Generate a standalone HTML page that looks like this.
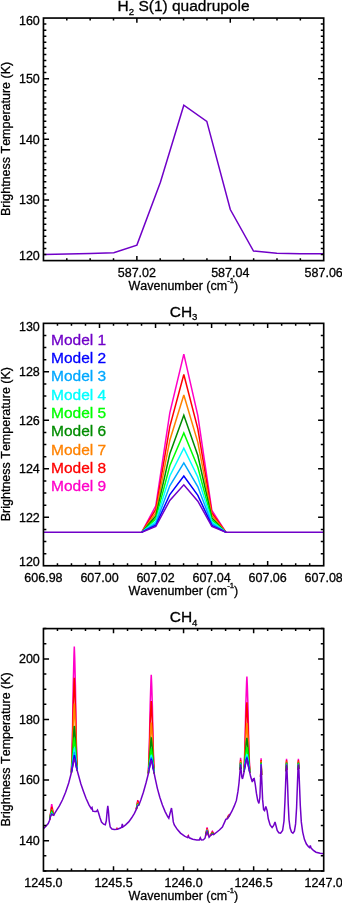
<!DOCTYPE html>
<html><head><meta charset="utf-8"><title>spectra</title>
<style>html,body{margin:0;padding:0;background:#fff}svg{display:block;will-change:transform;filter:contrast(1)}text{font-family:"Liberation Sans", sans-serif;stroke-width:.3px;font-kerning:none}</style>
</head><body>
<svg width="342" height="903" viewBox="0 0 342 903">
<rect width="342" height="903" fill="#fff"/>
<g>
<polyline points="43.45,254.4 67,254 90.3,253.5 113.8,252.7 136.9,245.1 160.4,182.2 183.8,105.2 206.8,121.4 230.3,209.5 253.5,251 276.8,253.2 300.3,253.7 323.7,253.85" fill="none" stroke="#7000c8" stroke-width="1.5" stroke-linejoin="miter" stroke-miterlimit="3"/>
<rect x="43.45" y="18.05" width="280.25" height="242.55" fill="none" stroke="#000" stroke-width="1.65"/>
<path d="M136.87 260.6v-4.7M136.87 18.05v4.7M230.28 260.6v-4.7M230.28 18.05v4.7M66.8 260.6v-2.4M66.8 18.05v2.4M90.16 260.6v-2.4M90.16 18.05v2.4M113.51 260.6v-2.4M113.51 18.05v2.4M160.22 260.6v-2.4M160.22 18.05v2.4M183.57 260.6v-2.4M183.57 18.05v2.4M206.93 260.6v-2.4M206.93 18.05v2.4M253.64 260.6v-2.4M253.64 18.05v2.4M276.99 260.6v-2.4M276.99 18.05v2.4M300.35 260.6v-2.4M300.35 18.05v2.4M43.45 199.96h5.6M323.7 199.96h-5.6M43.45 139.33h5.6M323.7 139.33h-5.6M43.45 78.69h5.6M323.7 78.69h-5.6M43.45 254.54h2.9M323.7 254.54h-2.9M43.45 248.47h2.9M323.7 248.47h-2.9M43.45 242.41h2.9M323.7 242.41h-2.9M43.45 236.35h2.9M323.7 236.35h-2.9M43.45 230.28h2.9M323.7 230.28h-2.9M43.45 224.22h2.9M323.7 224.22h-2.9M43.45 218.15h2.9M323.7 218.15h-2.9M43.45 212.09h2.9M323.7 212.09h-2.9M43.45 206.03h2.9M323.7 206.03h-2.9M43.45 193.9h2.9M323.7 193.9h-2.9M43.45 187.84h2.9M323.7 187.84h-2.9M43.45 181.77h2.9M323.7 181.77h-2.9M43.45 175.71h2.9M323.7 175.71h-2.9M43.45 169.64h2.9M323.7 169.64h-2.9M43.45 163.58h2.9M323.7 163.58h-2.9M43.45 157.52h2.9M323.7 157.52h-2.9M43.45 151.45h2.9M323.7 151.45h-2.9M43.45 145.39h2.9M323.7 145.39h-2.9M43.45 133.26h2.9M323.7 133.26h-2.9M43.45 127.2h2.9M323.7 127.2h-2.9M43.45 121.13h2.9M323.7 121.13h-2.9M43.45 115.07h2.9M323.7 115.07h-2.9M43.45 109.01h2.9M323.7 109.01h-2.9M43.45 102.94h2.9M323.7 102.94h-2.9M43.45 96.88h2.9M323.7 96.88h-2.9M43.45 90.82h2.9M323.7 90.82h-2.9M43.45 84.75h2.9M323.7 84.75h-2.9M43.45 72.62h2.9M323.7 72.62h-2.9M43.45 66.56h2.9M323.7 66.56h-2.9M43.45 60.5h2.9M323.7 60.5h-2.9M43.45 54.43h2.9M323.7 54.43h-2.9M43.45 48.37h2.9M323.7 48.37h-2.9M43.45 42.31h2.9M323.7 42.31h-2.9M43.45 36.24h2.9M323.7 36.24h-2.9M43.45 30.18h2.9M323.7 30.18h-2.9M43.45 24.11h2.9M323.7 24.11h-2.9" fill="none" stroke="#000" stroke-width="1.5"/>
<text x="183.57" y="11.35" font-size="15.5" text-anchor="middle" fill="#000" stroke="#000">H<tspan font-size="9.61" dy="3.72">2</tspan><tspan dy="-3.72">&#8203;</tspan> S(1) quadrupole</text>
<text x="39.8" y="260.45" font-size="12.5" text-anchor="end" fill="#000" stroke="#000">120</text>
<text x="39.8" y="204.36" font-size="12.5" text-anchor="end" fill="#000" stroke="#000">130</text>
<text x="39.8" y="143.73" font-size="12.5" text-anchor="end" fill="#000" stroke="#000">140</text>
<text x="39.8" y="83.09" font-size="12.5" text-anchor="end" fill="#000" stroke="#000">150</text>
<text x="39.8" y="25.25" font-size="12.5" text-anchor="end" fill="#000" stroke="#000">160</text>
<text x="136.87" y="276.5" font-size="12.5" text-anchor="middle" fill="#000" stroke="#000">587.02</text>
<text x="230.28" y="276.5" font-size="12.5" text-anchor="middle" fill="#000" stroke="#000">587.04</text>
<text x="323.7" y="276.5" font-size="12.5" text-anchor="middle" fill="#000" stroke="#000">587.06</text>
<text x="183.38" y="290" font-size="12.5" text-anchor="middle" fill="#000" stroke="#000">Wavenumber (cm<tspan font-size="7.75" dy="-6.88">-1</tspan><tspan dy="6.88">&#8203;</tspan>)</text>
<text transform="translate(9.7 138.93) rotate(-90)" font-size="12.5" text-anchor="middle" stroke="#000">Brightness Temperature (K)</text>
</g>
<g>
<polyline points="141.79,532.2 155.8,505.84 169.81,412.87 183.82,354.1 197.84,415.54 211.85,510.47 225.86,532.2" fill="none" stroke="#ff00c8" stroke-width="1.5" stroke-linejoin="miter" stroke-miterlimit="3"/>
<polyline points="141.79,532.2 155.8,509.41 169.81,426.54 183.82,374.5 197.84,428.91 211.85,512.96 225.86,532.2" fill="none" stroke="#ff0000" stroke-width="1.5" stroke-linejoin="miter" stroke-miterlimit="3"/>
<polyline points="141.79,532.2 155.8,512.85 169.81,440.28 183.82,395 197.84,442.33 211.85,515.46 225.86,532.2" fill="none" stroke="#ff8200" stroke-width="1.5" stroke-linejoin="miter" stroke-miterlimit="3"/>
<polyline points="141.79,532.2 155.8,516.11 169.81,453.81 183.82,415.2 197.84,455.56 211.85,517.93 225.86,532.2" fill="none" stroke="#008c00" stroke-width="1.5" stroke-linejoin="miter" stroke-miterlimit="3"/>
<polyline points="141.79,532.2 155.8,518.91 169.81,465.74 183.82,433 197.84,467.22 211.85,520.1 225.86,532.2" fill="none" stroke="#00ff00" stroke-width="1.5" stroke-linejoin="miter" stroke-miterlimit="3"/>
<polyline points="141.79,532.2 155.8,521.24 169.81,475.92 183.82,448.2 197.84,477.18 211.85,521.95 225.86,532.2" fill="none" stroke="#00ffff" stroke-width="1.5" stroke-linejoin="miter" stroke-miterlimit="3"/>
<polyline points="141.79,532.2 155.8,523.4 169.81,485.77 183.82,462.9 197.84,486.81 211.85,523.75 225.86,532.2" fill="none" stroke="#00a8ff" stroke-width="1.5" stroke-linejoin="miter" stroke-miterlimit="3"/>
<polyline points="141.79,532.2 155.8,525.26 169.81,494.55 183.82,476 197.84,495.39 211.85,525.34 225.86,532.2" fill="none" stroke="#0000ff" stroke-width="1.5" stroke-linejoin="miter" stroke-miterlimit="3"/>
<polyline points="43.45,532.2 141.79,532.2 155.8,526.51 169.81,500.44 183.82,484.8 197.84,501.15 211.85,526.42 225.86,532.2 323.7,532.2" fill="none" stroke="#7000c8" stroke-width="1.5" stroke-linejoin="miter" stroke-miterlimit="3"/>
<rect x="43.45" y="323.35" width="280.25" height="242.4" fill="none" stroke="#000" stroke-width="1.65"/>
<path d="M99.5 565.75v-4.7M99.5 323.35v4.7M155.55 565.75v-4.7M155.55 323.35v4.7M211.6 565.75v-4.7M211.6 323.35v4.7M267.65 565.75v-4.7M267.65 323.35v4.7M57.46 565.75v-2.4M57.46 323.35v2.4M71.47 565.75v-2.4M71.47 323.35v2.4M85.49 565.75v-2.4M85.49 323.35v2.4M113.51 565.75v-2.4M113.51 323.35v2.4M127.52 565.75v-2.4M127.52 323.35v2.4M141.54 565.75v-2.4M141.54 323.35v2.4M169.56 565.75v-2.4M169.56 323.35v2.4M183.57 565.75v-2.4M183.57 323.35v2.4M197.59 565.75v-2.4M197.59 323.35v2.4M225.61 565.75v-2.4M225.61 323.35v2.4M239.63 565.75v-2.4M239.63 323.35v2.4M253.64 565.75v-2.4M253.64 323.35v2.4M281.66 565.75v-2.4M281.66 323.35v2.4M295.68 565.75v-2.4M295.68 323.35v2.4M309.69 565.75v-2.4M309.69 323.35v2.4M43.45 517.27h5.6M323.7 517.27h-5.6M43.45 468.79h5.6M323.7 468.79h-5.6M43.45 420.31h5.6M323.7 420.31h-5.6M43.45 371.83h5.6M323.7 371.83h-5.6M43.45 553.63h2.9M323.7 553.63h-2.9M43.45 541.51h2.9M323.7 541.51h-2.9M43.45 529.39h2.9M323.7 529.39h-2.9M43.45 505.15h2.9M323.7 505.15h-2.9M43.45 493.03h2.9M323.7 493.03h-2.9M43.45 480.91h2.9M323.7 480.91h-2.9M43.45 456.67h2.9M323.7 456.67h-2.9M43.45 444.55h2.9M323.7 444.55h-2.9M43.45 432.43h2.9M323.7 432.43h-2.9M43.45 408.19h2.9M323.7 408.19h-2.9M43.45 396.07h2.9M323.7 396.07h-2.9M43.45 383.95h2.9M323.7 383.95h-2.9M43.45 359.71h2.9M323.7 359.71h-2.9M43.45 347.59h2.9M323.7 347.59h-2.9M43.45 335.47h2.9M323.7 335.47h-2.9" fill="none" stroke="#000" stroke-width="1.5"/>
<text x="183.57" y="316.65" font-size="15.5" text-anchor="middle" fill="#000" stroke="#000">CH<tspan font-size="9.61" dy="3.72">3</tspan><tspan dy="-3.72">&#8203;</tspan></text>
<text x="39.8" y="565.6" font-size="12.5" text-anchor="end" fill="#000" stroke="#000">120</text>
<text x="39.8" y="521.67" font-size="12.5" text-anchor="end" fill="#000" stroke="#000">122</text>
<text x="39.8" y="473.19" font-size="12.5" text-anchor="end" fill="#000" stroke="#000">124</text>
<text x="39.8" y="424.71" font-size="12.5" text-anchor="end" fill="#000" stroke="#000">126</text>
<text x="39.8" y="376.23" font-size="12.5" text-anchor="end" fill="#000" stroke="#000">128</text>
<text x="39.8" y="330.55" font-size="12.5" text-anchor="end" fill="#000" stroke="#000">130</text>
<text x="43.45" y="581.65" font-size="12.5" text-anchor="middle" fill="#000" stroke="#000">606.98</text>
<text x="99.5" y="581.65" font-size="12.5" text-anchor="middle" fill="#000" stroke="#000">607.00</text>
<text x="155.55" y="581.65" font-size="12.5" text-anchor="middle" fill="#000" stroke="#000">607.02</text>
<text x="211.6" y="581.65" font-size="12.5" text-anchor="middle" fill="#000" stroke="#000">607.04</text>
<text x="267.65" y="581.65" font-size="12.5" text-anchor="middle" fill="#000" stroke="#000">607.06</text>
<text x="323.7" y="581.65" font-size="12.5" text-anchor="middle" fill="#000" stroke="#000">607.08</text>
<text x="183.38" y="595.15" font-size="12.5" text-anchor="middle" fill="#000" stroke="#000">Wavenumber (cm<tspan font-size="7.75" dy="-6.88">-1</tspan><tspan dy="6.88">&#8203;</tspan>)</text>
<text transform="translate(9.7 444.15) rotate(-90)" font-size="12.5" text-anchor="middle" stroke="#000">Brightness Temperature (K)</text>
<text x="51" y="344.7" font-size="15.5" text-anchor="start" fill="#7000c8" stroke="#7000c8">Model 1</text>
<text x="51" y="363" font-size="15.5" text-anchor="start" fill="#0000ff" stroke="#0000ff">Model 2</text>
<text x="51" y="381.3" font-size="15.5" text-anchor="start" fill="#00a8ff" stroke="#00a8ff">Model 3</text>
<text x="51" y="399.6" font-size="15.5" text-anchor="start" fill="#00ffff" stroke="#00ffff">Model 4</text>
<text x="51" y="417.9" font-size="15.5" text-anchor="start" fill="#00ff00" stroke="#00ff00">Model 5</text>
<text x="51" y="436.2" font-size="15.5" text-anchor="start" fill="#008c00" stroke="#008c00">Model 6</text>
<text x="51" y="454.5" font-size="15.5" text-anchor="start" fill="#ff8200" stroke="#ff8200">Model 7</text>
<text x="51" y="472.8" font-size="15.5" text-anchor="start" fill="#ff0000" stroke="#ff0000">Model 8</text>
<text x="51" y="491.1" font-size="15.5" text-anchor="start" fill="#ff00c8" stroke="#ff00c8">Model 9</text>
</g>
<g>
<polyline points="49.7,819.79 51.7,804.1 53.7,815.3" fill="none" stroke="#ff00c8" stroke-width="1.5" stroke-linejoin="miter" stroke-miterlimit="3"/>
<polyline points="71.4,772.45 72.4,737.07 73.2,686.31 74,654.37 74.3,646.56 74.7,656.93 75.4,685.04 76.2,735.7 77.2,770.54" fill="none" stroke="#ff00c8" stroke-width="1.5" stroke-linejoin="miter" stroke-miterlimit="3"/>
<polyline points="116.4,828.93 117,828.23 117.6,828.79" fill="none" stroke="#ff00c8" stroke-width="1.5" stroke-linejoin="miter" stroke-miterlimit="3"/>
<polyline points="136.2,809.61 137.5,801.35 137.8,800.13 138.9,803.35 139.4,803.77" fill="none" stroke="#ff00c8" stroke-width="1.5" stroke-linejoin="miter" stroke-miterlimit="3"/>
<polyline points="148.35,773.52 149.35,744.83 150.15,705.42 150.95,680.84 151.25,674.76 151.65,683.07 152.35,705.16 153.15,744.83 154.15,773.35" fill="none" stroke="#ff00c8" stroke-width="1.5" stroke-linejoin="miter" stroke-miterlimit="3"/>
<polyline points="187.9,836.78 188.3,835.77 188.4,835.68 188.7,836.43" fill="none" stroke="#ff00c8" stroke-width="1.5" stroke-linejoin="miter" stroke-miterlimit="3"/>
<polyline points="205.6,835.48 207.1,827.3 208.6,835.39" fill="none" stroke="#ff00c8" stroke-width="1.5" stroke-linejoin="miter" stroke-miterlimit="3"/>
<polyline points="210.4,835.45 212.2,831.46 212.4,831.27 213.6,833.28 214.4,833.71" fill="none" stroke="#ff00c8" stroke-width="1.5" stroke-linejoin="miter" stroke-miterlimit="3"/>
<polyline points="226.9,818.64 227.3,818.16 228.5,815.43 230.1,814.08" fill="none" stroke="#ff00c8" stroke-width="1.5" stroke-linejoin="miter" stroke-miterlimit="3"/>
<polyline points="240.15,769.7 240.6,757.9 241.05,769.1" fill="none" stroke="#ff00c8" stroke-width="1.5" stroke-linejoin="miter" stroke-miterlimit="3"/>
<polyline points="244,772.07 245,743.72 245.8,705.46 246.6,682.11 246.9,676.6 247.3,685.01 248,706.65 248.8,745.28 249.8,772.81" fill="none" stroke="#ff00c8" stroke-width="1.5" stroke-linejoin="miter" stroke-miterlimit="3"/>
<polyline points="260.65,776.78 261.1,758.2 261.55,775.01" fill="none" stroke="#ff00c8" stroke-width="1.5" stroke-linejoin="miter" stroke-miterlimit="3"/>
<polyline points="286.1,771.3 286.55,758.7 287,769.95" fill="none" stroke="#ff00c8" stroke-width="1.5" stroke-linejoin="miter" stroke-miterlimit="3"/>
<polyline points="297.95,770.06 298.4,758.7 298.85,768.7" fill="none" stroke="#ff00c8" stroke-width="1.5" stroke-linejoin="miter" stroke-miterlimit="3"/>
<polyline points="49.7,819.79 51.7,806.94 53.7,815.3" fill="none" stroke="#ff0000" stroke-width="1.5" stroke-linejoin="miter" stroke-miterlimit="3"/>
<polyline points="71.4,772.45 72.4,745.65 73.2,707.84 74,683.69 74.3,677.76 74.7,685.45 75.4,706.56 76.2,744.28 77.2,770.54" fill="none" stroke="#ff0000" stroke-width="1.5" stroke-linejoin="miter" stroke-miterlimit="3"/>
<polyline points="116.5,828.94 117,828.51 117.5,828.84" fill="none" stroke="#ff0000" stroke-width="1.5" stroke-linejoin="miter" stroke-miterlimit="3"/>
<polyline points="136.3,809.15 137.5,802.64 137.8,801.72 138.9,803.85 139.3,803.79" fill="none" stroke="#ff0000" stroke-width="1.5" stroke-linejoin="miter" stroke-miterlimit="3"/>
<polyline points="148.35,773.52 149.35,752.09 150.15,723.63 150.95,705.66 151.25,701.16 151.65,707.2 152.35,723.38 153.15,752.09 154.15,773.35" fill="none" stroke="#ff0000" stroke-width="1.5" stroke-linejoin="miter" stroke-miterlimit="3"/>
<polyline points="188.1,836.4 188.3,835.95 188.4,835.82 188.5,836.06" fill="none" stroke="#ff0000" stroke-width="1.5" stroke-linejoin="miter" stroke-miterlimit="3"/>
<polyline points="205.6,835.55 207.1,828.49 208.6,835.46" fill="none" stroke="#ff0000" stroke-width="1.5" stroke-linejoin="miter" stroke-miterlimit="3"/>
<polyline points="210.5,835.34 212.2,832.21 212.4,832.1 213.6,833.66 214.3,833.77" fill="none" stroke="#ff0000" stroke-width="1.5" stroke-linejoin="miter" stroke-miterlimit="3"/>
<polyline points="227.1,818.54 227.3,818.34 228.5,815.89 229.9,814.41" fill="none" stroke="#ff0000" stroke-width="1.5" stroke-linejoin="miter" stroke-miterlimit="3"/>
<polyline points="240.15,769.7 240.6,759.72 241.05,769.1" fill="none" stroke="#ff0000" stroke-width="1.5" stroke-linejoin="miter" stroke-miterlimit="3"/>
<polyline points="244,772.07 245,750.76 245.8,723.12 246.6,706.17 246.9,702.2 248,724.31 248.8,752.32 249.8,772.81" fill="none" stroke="#ff0000" stroke-width="1.5" stroke-linejoin="miter" stroke-miterlimit="3"/>
<polyline points="260.65,776.78 261.1,759.96 261.55,775.01" fill="none" stroke="#ff0000" stroke-width="1.5" stroke-linejoin="miter" stroke-miterlimit="3"/>
<polyline points="286.1,771.3 286.55,760.29 287,769.95" fill="none" stroke="#ff0000" stroke-width="1.5" stroke-linejoin="miter" stroke-miterlimit="3"/>
<polyline points="297.95,770.06 298.4,760.29 298.85,768.7" fill="none" stroke="#ff0000" stroke-width="1.5" stroke-linejoin="miter" stroke-miterlimit="3"/>
<polyline points="49.8,819.13 50.6,813.89 51.7,809.18 53.6,815.01" fill="none" stroke="#ff8200" stroke-width="1.5" stroke-linejoin="miter" stroke-miterlimit="3"/>
<polyline points="71.4,772.45 72.4,752.74 73.9,709.74 74.3,703.56 74.4,704.31 75.4,724.37 76.2,751.38 77.2,770.54" fill="none" stroke="#ff8200" stroke-width="1.5" stroke-linejoin="miter" stroke-miterlimit="3"/>
<polyline points="116.7,828.92 117,828.73 117.3,828.88" fill="none" stroke="#ff8200" stroke-width="1.5" stroke-linejoin="miter" stroke-miterlimit="3"/>
<polyline points="136.4,808.86 137.5,803.66 137.8,802.97 138.9,804.24 139.2,803.96" fill="none" stroke="#ff8200" stroke-width="1.5" stroke-linejoin="miter" stroke-miterlimit="3"/>
<polyline points="148.35,773.52 149.35,757.97 150.85,727.07 151.25,722.56 151.65,726.76 152.35,738.14 153.15,757.97 154.15,773.35" fill="none" stroke="#ff8200" stroke-width="1.5" stroke-linejoin="miter" stroke-miterlimit="3"/>
<polyline points="205.7,835.07 207.1,829.43 208.5,835.08" fill="none" stroke="#ff8200" stroke-width="1.5" stroke-linejoin="miter" stroke-miterlimit="3"/>
<polyline points="210.7,835.12 212.2,832.8 212.4,832.74 213.6,833.95 214.1,833.89" fill="none" stroke="#ff8200" stroke-width="1.5" stroke-linejoin="miter" stroke-miterlimit="3"/>
<polyline points="227.3,818.49 228.5,816.24 229.7,814.8" fill="none" stroke="#ff8200" stroke-width="1.5" stroke-linejoin="miter" stroke-miterlimit="3"/>
<polyline points="240.15,769.7 240.6,761.15 241.05,769.1" fill="none" stroke="#ff8200" stroke-width="1.5" stroke-linejoin="miter" stroke-miterlimit="3"/>
<polyline points="244,772.07 245,756.51 246.2,730.98 246.9,723.1 248,738.73 248.8,758.07 249.8,772.81" fill="none" stroke="#ff8200" stroke-width="1.5" stroke-linejoin="miter" stroke-miterlimit="3"/>
<polyline points="260.65,776.78 261.1,761.35 261.55,775.01" fill="none" stroke="#ff8200" stroke-width="1.5" stroke-linejoin="miter" stroke-miterlimit="3"/>
<polyline points="286.1,771.3 286.55,761.54 286.95,768.39" fill="none" stroke="#ff8200" stroke-width="1.5" stroke-linejoin="miter" stroke-miterlimit="3"/>
<polyline points="298,768.39 298.4,761.54 298.85,768.7" fill="none" stroke="#ff8200" stroke-width="1.5" stroke-linejoin="miter" stroke-miterlimit="3"/>
<polyline points="49.9,818.68 50.6,814.79 51.7,811.18 53.5,814.93" fill="none" stroke="#008c00" stroke-width="1.5" stroke-linejoin="miter" stroke-miterlimit="3"/>
<polyline points="71.4,772.45 72.4,758.93 73.9,730.31 74.3,726.06 74.4,726.36 75.4,739.89 76.2,757.56 77.2,770.54" fill="none" stroke="#008c00" stroke-width="1.5" stroke-linejoin="miter" stroke-miterlimit="3"/>
<polyline points="136.5,808.59 137.5,804.57 137.8,804.09 138.9,804.59 139.1,804.26" fill="none" stroke="#008c00" stroke-width="1.5" stroke-linejoin="miter" stroke-miterlimit="3"/>
<polyline points="148.35,773.52 149.35,762.23 150.85,741.24 151.25,738.06 151.3,738.12 152.35,748.84 153.15,762.23 154.15,773.35" fill="none" stroke="#008c00" stroke-width="1.5" stroke-linejoin="miter" stroke-miterlimit="3"/>
<polyline points="205.9,834.2 207.1,830.27 208.3,834.41" fill="none" stroke="#008c00" stroke-width="1.5" stroke-linejoin="miter" stroke-miterlimit="3"/>
<polyline points="211.1,834.74 212.2,833.33 212.4,833.32 213.6,834.22 213.7,834.18" fill="none" stroke="#008c00" stroke-width="1.5" stroke-linejoin="miter" stroke-miterlimit="3"/>
<polyline points="227.9,817.59 229.1,815.82" fill="none" stroke="#008c00" stroke-width="1.5" stroke-linejoin="miter" stroke-miterlimit="3"/>
<polyline points="240.15,769.7 240.6,762.43 241.05,769.1" fill="none" stroke="#008c00" stroke-width="1.5" stroke-linejoin="miter" stroke-miterlimit="3"/>
<polyline points="244,772.07 245,760.58 246.2,743.09 246.9,737.9 247.6,744.09 249.8,772.81" fill="none" stroke="#008c00" stroke-width="1.5" stroke-linejoin="miter" stroke-miterlimit="3"/>
<polyline points="260.65,776.78 261.1,762.59 261.55,775.01" fill="none" stroke="#008c00" stroke-width="1.5" stroke-linejoin="miter" stroke-miterlimit="3"/>
<polyline points="286.1,771.3 286.55,762.66 286.95,768.52" fill="none" stroke="#008c00" stroke-width="1.5" stroke-linejoin="miter" stroke-miterlimit="3"/>
<polyline points="298,768.52 298.4,762.66 298.85,768.7" fill="none" stroke="#008c00" stroke-width="1.5" stroke-linejoin="miter" stroke-miterlimit="3"/>
<polyline points="50,818.29 50.6,815.28 51.7,812.28 53.4,814.91" fill="none" stroke="#00ff00" stroke-width="1.5" stroke-linejoin="miter" stroke-miterlimit="3"/>
<polyline points="71.4,772.45 72.4,762.34 73.9,741.64 74.3,738.46 74.4,738.51 75.4,748.45 76.4,763.11 77.2,770.54" fill="none" stroke="#00ff00" stroke-width="1.5" stroke-linejoin="miter" stroke-miterlimit="3"/>
<polyline points="136.7,807.98 137.5,805.07 137.8,804.71 138.9,804.78" fill="none" stroke="#00ff00" stroke-width="1.5" stroke-linejoin="miter" stroke-miterlimit="3"/>
<polyline points="148.45,772.69 150.85,751.11 151.25,748.86 151.3,748.82 152.05,753.64 154.05,772.55" fill="none" stroke="#00ff00" stroke-width="1.5" stroke-linejoin="miter" stroke-miterlimit="3"/>
<polyline points="206.2,833.29 207.1,830.74 208,833.51" fill="none" stroke="#00ff00" stroke-width="1.5" stroke-linejoin="miter" stroke-miterlimit="3"/>
<polyline points="211.6,834.3 212.2,833.62 212.4,833.64 213.2,834.12" fill="none" stroke="#00ff00" stroke-width="1.5" stroke-linejoin="miter" stroke-miterlimit="3"/>
<polyline points="240.25,768.24 240.6,763.14 240.95,767.77" fill="none" stroke="#00ff00" stroke-width="1.5" stroke-linejoin="miter" stroke-miterlimit="3"/>
<polyline points="244.1,771.17 246.2,750.69 246.9,747.2 247.6,751.69 249.7,772.02" fill="none" stroke="#00ff00" stroke-width="1.5" stroke-linejoin="miter" stroke-miterlimit="3"/>
<polyline points="260.75,773.77 261.1,763.27 261.45,772.4" fill="none" stroke="#00ff00" stroke-width="1.5" stroke-linejoin="miter" stroke-miterlimit="3"/>
<polyline points="286.2,768.47 286.55,763.28 286.9,767.92" fill="none" stroke="#00ff00" stroke-width="1.5" stroke-linejoin="miter" stroke-miterlimit="3"/>
<polyline points="298.05,767.92 298.4,763.28 298.75,767.5" fill="none" stroke="#00ff00" stroke-width="1.5" stroke-linejoin="miter" stroke-miterlimit="3"/>
<polyline points="50.4,816.6 50.6,815.69 51.7,813.18 53,814.7" fill="none" stroke="#00ffff" stroke-width="1.5" stroke-linejoin="miter" stroke-miterlimit="3"/>
<polyline points="71.5,771.72 72.7,762.16 73.9,750.87 74.3,748.56 74.4,748.41 75.4,755.42 76.4,765.33 77.1,769.89" fill="none" stroke="#00ffff" stroke-width="1.5" stroke-linejoin="miter" stroke-miterlimit="3"/>
<polyline points="137.2,806.48 137.5,805.48 137.8,805.21 138.4,805.06" fill="none" stroke="#00ffff" stroke-width="1.5" stroke-linejoin="miter" stroke-miterlimit="3"/>
<polyline points="148.55,772.2 150.85,756.78 151.3,754.95 152.05,758.51 153.95,772.09" fill="none" stroke="#00ffff" stroke-width="1.5" stroke-linejoin="miter" stroke-miterlimit="3"/>
<polyline points="206.9,831.63 207.1,831.11 207.3,831.68" fill="none" stroke="#00ffff" stroke-width="1.5" stroke-linejoin="miter" stroke-miterlimit="3"/>
<polyline points="240.35,767.04 240.6,763.71 240.85,766.7" fill="none" stroke="#00ffff" stroke-width="1.5" stroke-linejoin="miter" stroke-miterlimit="3"/>
<polyline points="244.2,770.66 246.2,756.34 246.9,754.1 247.6,757.34 249.6,771.61" fill="none" stroke="#00ffff" stroke-width="1.5" stroke-linejoin="miter" stroke-miterlimit="3"/>
<polyline points="260.85,771.02 261.1,763.83 261.35,770.04" fill="none" stroke="#00ffff" stroke-width="1.5" stroke-linejoin="miter" stroke-miterlimit="3"/>
<polyline points="286.4,765.84 286.55,763.78 286.7,765.61" fill="none" stroke="#00ffff" stroke-width="1.5" stroke-linejoin="miter" stroke-miterlimit="3"/>
<polyline points="298.25,765.61 298.4,763.78 298.55,765.42" fill="none" stroke="#00ffff" stroke-width="1.5" stroke-linejoin="miter" stroke-miterlimit="3"/>
<polyline points="50.9,815.21 51.7,813.52 52.5,814.39" fill="none" stroke="#00a8ff" stroke-width="1.5" stroke-linejoin="miter" stroke-miterlimit="3"/>
<polyline points="71.5,771.82 72.7,763.8 73.9,754.34 74.3,752.36 74.4,752.13 75.4,758.04 76.4,766.17 77.1,770" fill="none" stroke="#00a8ff" stroke-width="1.5" stroke-linejoin="miter" stroke-miterlimit="3"/>
<polyline points="148.75,771.13 150.85,758.88 151.3,757.23 152.05,760.32 153.75,771.08" fill="none" stroke="#00a8ff" stroke-width="1.5" stroke-linejoin="miter" stroke-miterlimit="3"/>
<polyline points="240.55,764.57 240.6,763.93 240.65,764.5" fill="none" stroke="#00a8ff" stroke-width="1.5" stroke-linejoin="miter" stroke-miterlimit="3"/>
<polyline points="244.4,769.55 246.2,758.55 246.9,756.8 247.6,759.55 249.4,770.7" fill="none" stroke="#00a8ff" stroke-width="1.5" stroke-linejoin="miter" stroke-miterlimit="3"/>
<polyline points="261.05,765.46 261.1,764.04 261.15,765.26" fill="none" stroke="#00a8ff" stroke-width="1.5" stroke-linejoin="miter" stroke-miterlimit="3"/>
<polyline points="71.7,770.83 74.3,755.56 74.4,755.27 75.1,758.41 76.9,769.17" fill="none" stroke="#0000ff" stroke-width="1.5" stroke-linejoin="miter" stroke-miterlimit="3"/>
<polyline points="149.15,769.09 150.65,761.07 151.3,758.81 152.05,761.58 153.35,769.09" fill="none" stroke="#0000ff" stroke-width="1.5" stroke-linejoin="miter" stroke-miterlimit="3"/>
<polyline points="244.8,767.36 246.2,759.77 246.9,758.3 247.6,760.77 249,768.86" fill="none" stroke="#0000ff" stroke-width="1.5" stroke-linejoin="miter" stroke-miterlimit="3"/>
<polyline points="43.45,828.6 46.1,826 48.2,823.5 49.6,820.2 50.6,816.1 51.7,814.1 52.7,814.9 53.7,815.3 54.7,813.3 56.4,810.6 59.4,805.9 62.5,799.8 65.6,792.2 68.7,783 71.1,773.8 72.7,766.6 73.7,761 74.4,758.5 75.1,761 76.4,767.6 78.9,776.8 80.9,784 83.4,791.2 86,798.3 89.1,805.1 91.2,808.6 92,807.5 92.8,811.2 94.9,811.6 96.3,811.6 97.5,810 98.5,812.7 100,817.8 101.5,822.1 103.6,824.2 105.3,824.7 106.3,820.8 107.2,810.6 107.8,805.9 108.4,810.6 109.2,820.8 110.2,827 111.9,829 114.3,829.4 117.4,829.2 120.5,828 121.7,827.2 122.3,823.9 122.9,827 125.6,824.9 128.7,821.9 131.7,817.8 134.4,813.3 136.4,809.2 137.5,805.9 138.9,805.1 140.9,799.8 143.4,792.2 146,783 148.1,774.8 149.7,766.6 150.6,762.5 151.3,760.3 152,762.5 153.6,770.7 155.3,778.9 157.3,788.1 159.8,797.3 162.4,805 165.1,811.6 167.8,816.8 168.8,818.2 170.2,812.7 171.5,808 172.3,813.7 173.3,821.9 174.3,824.9 177.4,829.6 180.5,833.1 184.6,836.2 187.6,837.6 188.4,836.2 189.3,837.8 192.7,839.3 196.8,839.9 199.3,839.9 200.3,837.8 201.3,839.9 203.4,839.7 205,838.2 206,834.1 207.1,831.5 208.1,834.1 209.1,837.2 210.3,835.8 212.2,834.1 213.6,834.6 216.3,832.5 219.4,830 222.4,827 224.5,822.4 225.8,819.4 227.3,818.8 229.2,816 231.9,811.2 234.3,805.9 236.4,800.4 238,791.2 239,783 239.9,772.7 240.6,764.3 241.2,770.7 241.8,776.8 242.5,778.9 243.5,774.8 245,766.6 246.2,761 246.9,759.8 247.6,762 249.1,769.7 250.7,776.8 252.3,782 253.4,778.9 254.2,778.5 255.2,784 256.4,793.2 257.7,800.4 258.9,803.5 259.9,797.3 260.5,780.9 261.1,764.4 261.8,780.9 262.6,799.4 263.6,809.6 264.6,810.6 265.8,806.5 267.1,810.6 268.3,818.8 270.1,824.9 272.1,827.6 273.7,825.4 275,821.9 276,825.7 277.2,830.5 278.8,832.8 280.6,833.1 282.6,830.5 284,821 284.9,802.5 285.65,783 286.2,768.7 286.55,764.3 286.95,768.7 287.6,785 288.2,803.4 289,819.8 290.1,828 291.5,832.1 292.9,833.1 294.4,831.1 295.6,823.9 296.6,807.5 297.4,785 298,768.7 298.4,764.3 298.85,768.7 299.5,785 300.3,805.5 301.3,821.9 302.7,832.1 304.4,839.3 306.4,844 308.5,846.8 309.5,847.5 310.3,845.4 311.1,848.1 313.4,850.5 316,852.2 320.1,853.2 323.7,853.8" fill="none" stroke="#7000c8" stroke-width="1.5" stroke-linejoin="miter" stroke-miterlimit="3"/>
<rect x="43.45" y="628.6" width="280.25" height="242.35" fill="none" stroke="#000" stroke-width="1.65"/>
<path d="M113.51 870.95v-4.7M113.51 628.6v4.7M183.57 870.95v-4.7M183.57 628.6v4.7M253.64 870.95v-4.7M253.64 628.6v4.7M57.46 870.95v-2.4M57.46 628.6v2.4M71.48 870.95v-2.4M71.48 628.6v2.4M85.49 870.95v-2.4M85.49 628.6v2.4M99.5 870.95v-2.4M99.5 628.6v2.4M127.52 870.95v-2.4M127.52 628.6v2.4M141.54 870.95v-2.4M141.54 628.6v2.4M155.55 870.95v-2.4M155.55 628.6v2.4M169.56 870.95v-2.4M169.56 628.6v2.4M197.59 870.95v-2.4M197.59 628.6v2.4M211.6 870.95v-2.4M211.6 628.6v2.4M225.61 870.95v-2.4M225.61 628.6v2.4M239.63 870.95v-2.4M239.63 628.6v2.4M267.65 870.95v-2.4M267.65 628.6v2.4M281.66 870.95v-2.4M281.66 628.6v2.4M295.67 870.95v-2.4M295.67 628.6v2.4M309.69 870.95v-2.4M309.69 628.6v2.4M43.45 840.66h5.6M323.7 840.66h-5.6M43.45 780.07h5.6M323.7 780.07h-5.6M43.45 719.48h5.6M323.7 719.48h-5.6M43.45 658.89h5.6M323.7 658.89h-5.6M43.45 870.95h2.9M323.7 870.95h-2.9M43.45 855.8h2.9M323.7 855.8h-2.9M43.45 825.51h2.9M323.7 825.51h-2.9M43.45 810.36h2.9M323.7 810.36h-2.9M43.45 795.22h2.9M323.7 795.22h-2.9M43.45 764.92h2.9M323.7 764.92h-2.9M43.45 749.78h2.9M323.7 749.78h-2.9M43.45 734.63h2.9M323.7 734.63h-2.9M43.45 704.33h2.9M323.7 704.33h-2.9M43.45 689.19h2.9M323.7 689.19h-2.9M43.45 674.04h2.9M323.7 674.04h-2.9M43.45 643.75h2.9M323.7 643.75h-2.9M43.45 628.6h2.9M323.7 628.6h-2.9" fill="none" stroke="#000" stroke-width="1.5"/>
<text x="183.57" y="621.9" font-size="15.5" text-anchor="middle" fill="#000" stroke="#000">CH<tspan font-size="9.61" dy="3.72">4</tspan><tspan dy="-3.72">&#8203;</tspan></text>
<text x="39.8" y="845.06" font-size="12.5" text-anchor="end" fill="#000" stroke="#000">140</text>
<text x="39.8" y="784.47" font-size="12.5" text-anchor="end" fill="#000" stroke="#000">160</text>
<text x="39.8" y="723.88" font-size="12.5" text-anchor="end" fill="#000" stroke="#000">180</text>
<text x="39.8" y="663.29" font-size="12.5" text-anchor="end" fill="#000" stroke="#000">200</text>
<text x="43.45" y="886.85" font-size="12.5" text-anchor="middle" fill="#000" stroke="#000">1245.0</text>
<text x="113.51" y="886.85" font-size="12.5" text-anchor="middle" fill="#000" stroke="#000">1245.5</text>
<text x="183.57" y="886.85" font-size="12.5" text-anchor="middle" fill="#000" stroke="#000">1246.0</text>
<text x="253.64" y="886.85" font-size="12.5" text-anchor="middle" fill="#000" stroke="#000">1246.5</text>
<text x="323.7" y="886.85" font-size="12.5" text-anchor="middle" fill="#000" stroke="#000">1247.0</text>
<text x="183.38" y="900.35" font-size="12.5" text-anchor="middle" fill="#000" stroke="#000">Wavenumber (cm<tspan font-size="7.75" dy="-6.88">-1</tspan><tspan dy="6.88">&#8203;</tspan>)</text>
<text transform="translate(9.7 749.38) rotate(-90)" font-size="12.5" text-anchor="middle" stroke="#000">Brightness Temperature (K)</text>
</g>
</svg>
</body></html>
